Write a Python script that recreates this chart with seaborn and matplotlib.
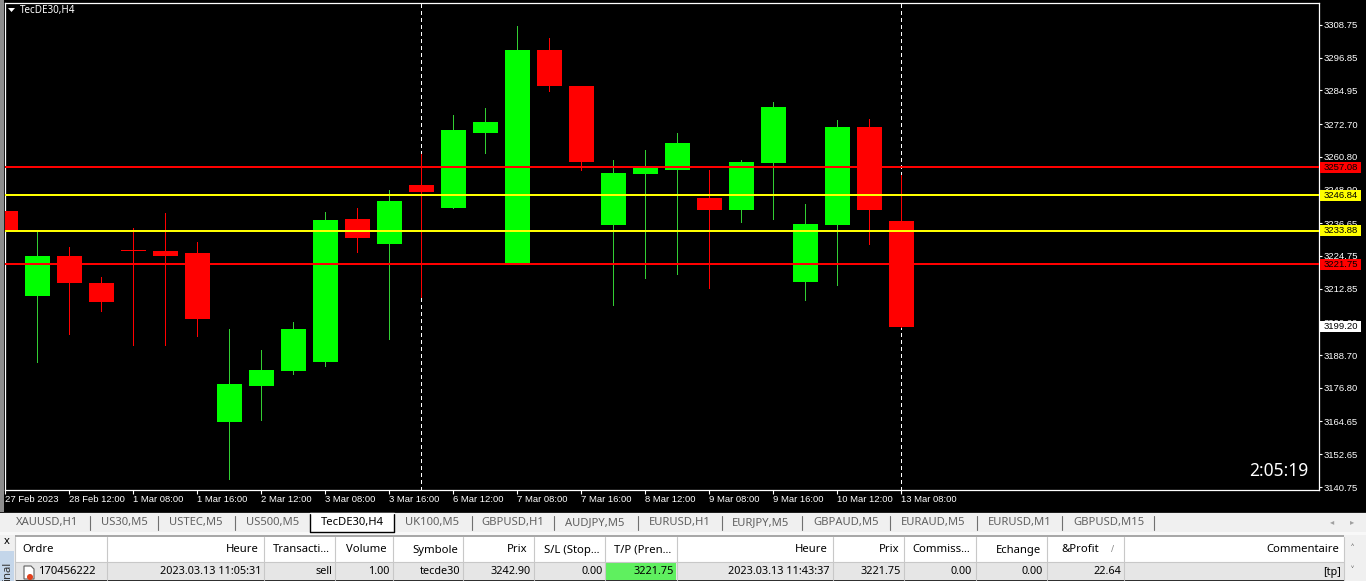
import matplotlib
matplotlib.use("Agg")
import matplotlib.pyplot as plt
from matplotlib.patches import Rectangle, Circle, Polygon
import pandas as pd
import seaborn as sns

# =====================================================================
# Data (TecDE30, H4)
# =====================================================================
opens = [3241.11, 3210.20, 3224.75, 3214.93, 3226.93, 3226.57, 3225.84, 3164.39, 3177.48, 3182.93,
         3186.20, 3238.21, 3229.11, 3250.57, 3242.20, 3269.48, 3222.30, 3299.66, 3286.57, 3236.02,
         3254.57, 3256.02, 3245.84, 3241.48, 3258.57, 3215.30, 3236.02, 3271.66, 3237.48]
closes = [3234.20, 3224.75, 3214.93, 3208.02, 3226.68, 3224.75, 3201.84, 3178.20, 3183.30, 3198.20,
          3237.84, 3231.30, 3244.75, 3248.02, 3270.57, 3273.48, 3299.66, 3286.57, 3258.93, 3254.93,
          3256.75, 3265.84, 3241.48, 3258.93, 3278.93, 3236.39, 3271.66, 3241.48, 3198.93]
highs = [3241.48, 3233.84, 3228.02, 3217.11, 3234.93, 3240.39, 3229.84, 3198.20, 3190.57, 3200.75,
         3240.75, 3242.20, 3248.75, 3261.84, 3276.02, 3278.57, 3308.39, 3304.02, 3286.57, 3259.66,
         3263.30, 3269.48, 3256.02, 3259.66, 3280.75, 3243.66, 3274.20, 3274.57, 3254.21]
lows = [3229.11, 3186.20, 3196.39, 3204.75, 3192.50, 3192.50, 3195.66, 3143.66, 3165.11, 3181.84,
        3184.75, 3226.30, 3194.57, 3209.84, 3242.20, 3262.20, 3222.30, 3284.75, 3256.02, 3206.93,
        3216.75, 3218.20, 3213.11, 3237.11, 3238.21, 3208.75, 3214.20, 3229.11, 3198.93]

y_ticks = [3308.75, 3296.85, 3284.95, 3272.70, 3260.80, 3248.90, 3236.65, 3224.75,
           3212.85, 3200.60, 3188.70, 3176.80, 3164.65, 3152.65, 3140.75]
x_tick_pos = [0, 2, 4, 6, 8, 10, 12, 14, 16, 18, 20, 22, 24, 26, 28]
x_tick_labels = ["27 Feb 2023", "28 Feb 12:00", "1 Mar 08:00", "1 Mar 16:00", "2 Mar 12:00",
                 "3 Mar 08:00", "3 Mar 16:00", "6 Mar 12:00", "7 Mar 08:00", "7 Mar 16:00",
                 "8 Mar 12:00", "9 Mar 08:00", "9 Mar 16:00", "10 Mar 12:00", "13 Mar 08:00"]

red_levels = [3257.08, 3221.75]
yellow_levels = [3246.84, 3233.88]
current_price = 3199.20
day_breaks = [13, 28]

tabs = ["XAUUSD,H1", "US30,M5", "USTEC,M5", "US500,M5", "TecDE30,H4", "UK100,M5", "GBPUSD,H1",
        "AUDJPY,M5", "EURUSD,H1", "EURJPY,M5", "GBPAUD,M5", "EURAUD,M5", "EURUSD,M1", "GBPUSD,M15"]
tab_x = [16, 101, 169, 246, 321, 405, 481, 565, 649, 732, 813, 901, 988, 1073]
tab_seps = [90, 158, 235, 472, 554, 638, 722, 802, 890, 977, 1062, 1154]

headers = ["Heure", "Transacti...", "Volume", "Symbole", "Prix", "S/L (Stop...", "T/P (Pren...",
           "Heure", "Prix", "Commiss...", "Echange", "&Profit", "Commentaire"]
header_x = [259, 330, 387, 458, 528, 600, 671, 828, 899, 970, 1041, 1099, 1339]
row_vals = ["2023.03.13 11:05:31", "sell", "1.00", "tecde30", "3242.90", "0.00", "3221.75",
            "2023.03.13 11:43:37", "3221.75", "0.00", "0.00", "22.64", "[tp]"]
row_x = [261, 332, 389, 460, 531, 603, 674, 830, 901, 972, 1043, 1121, 1341]
col_edges = [15, 107, 264, 335, 393, 463, 534, 605, 677, 833, 904, 976, 1047, 1124, 1344]

# =====================================================================
# Figure
# =====================================================================
sns.set_theme(style="white", rc={"axes.grid": False})
plt.rcParams["font.family"] = ["Noto Sans", "DejaVu Sans"]

GREEN = "#00ff00"
RED = "#ff0000"
YELLOW = "#ffff00"
UI_FONT = 8.1
AXIS_FONT = dict(family="Liberation Sans", size=6.8)

fig = plt.figure(figsize=(13.66, 5.81), dpi=100, facecolor="black")

# window chrome in pixel coordinates
ui = fig.add_axes([0, 0, 1, 1])
ui.set_xlim(0, 1366)
ui.set_ylim(581, 0)
ui.axis("off")
ui.patch.set_alpha(0)


def box(x0, y0, x1, y1, color, **kw):
    ui.add_patch(Rectangle((x0, y0), x1 - x0, y1 - y0, facecolor=color, edgecolor="none", **kw))


box(0, 0, 4, 512, "#8c8c8c")
box(0, 512, 1366, 581, "#f0f0f0")
box(0, 512, 1366, 513, "#202020")
box(0, 532, 1366, 535, "#f8f8f8")
box(15, 535, 1344, 537, "#a8a8a8")
box(15, 537, 1344, 562, "white")
box(15, 562, 1344, 580, "#e6e6e6")
box(15, 580, 1344, 581, "#303030")
box(606, 563, 676, 580, "#5ff05f")
box(0, 551, 14, 581, "#c4d6ea")

# tabs
box(310, 513, 394, 532, "white")
ui.plot([310, 310, 394, 394], [514, 532, 532, 514], color="black", lw=1)
ui.plot([310, 394], [513, 513], color="white", lw=1)
for name, x in zip(tabs, tab_x):
    col = "black" if name == "TecDE30,H4" else "#606060"
    ui.text(x, 523, name, color=col, fontsize=UI_FONT, va="center", ha="left")
for x in tab_seps:
    ui.plot([x, x], [516, 530], color="#707070", lw=0.8)
ui.text(1332, 522, "◂", color="#a0a0a0", fontsize=6, va="center", ha="center")
ui.text(1352, 522, "▸", color="#a0a0a0", fontsize=6, va="center", ha="center")

# table
for x in col_edges:
    ui.plot([x, x], [537, 580], color="#c8c8c8", lw=0.8)
ui.plot([15, 1344], [562, 562], color="#c8c8c8", lw=0.8)
ui.text(22, 550, "Ordre", color="black", fontsize=UI_FONT, va="center", ha="left")
ui.text(38, 572, "170456222", color="black", fontsize=UI_FONT, va="center", ha="left")
for txt, x in zip(headers, header_x):
    ui.text(x, 550, txt, color="black", fontsize=UI_FONT, va="center", ha="right")
for txt, x in zip(row_vals, row_x):
    ui.text(x, 572, txt, color="black", fontsize=7.8, va="center", ha="right")
ui.text(1112, 550, "/", color="#808080", fontsize=6, va="center", ha="center")
ui.text(7, 542, "x", color="black", fontsize=8, fontweight="bold", va="center", ha="center")
ui.text(7.5, 581, "inal", color="#303030", fontsize=UI_FONT, rotation=90, va="bottom", ha="center",
        clip_on=True)
ui.text(1352, 549, "˄", color="#404040", fontsize=8, va="center", ha="center")
ui.text(1352, 572, "˅", color="#404040", fontsize=8, va="center", ha="center")

# order icon
ui.add_patch(Polygon([(24, 566), (31, 566), (34, 569), (34, 579), (24, 579)],
                     facecolor="white", edgecolor="#606060", lw=0.8))
ui.add_patch(Circle((30, 577), 3, facecolor="#e2401c", edgecolor="none"))

# =====================================================================
# Chart
# =====================================================================
ax = fig.add_axes([5 / 1366, (581 - 490) / 581, 1314 / 1366, 487.5 / 581], facecolor="black")

df = pd.DataFrame({"idx": range(len(opens)), "open": opens, "close": closes, "high": highs, "low": lows})
df["bottom"] = df[["open", "close"]].min(axis=1)
df["height"] = (df["close"] - df["open"]).abs()
df["up"] = df["close"] > df["open"]

for up, col, wick in [(True, GREEN, "#32cd32"), (False, RED, RED)]:
    part = df[df["up"] == up]
    ax.vlines(part["idx"], part["low"], part["high"], color=wick, lw=0.72, zorder=2, antialiased=False)
    sns.barplot(data=part, x="idx", y="height", bottom=part["bottom"].values, native_scale=True,
                color=col, saturation=1, width=25 / 32, errorbar=None, linewidth=0, ax=ax, zorder=3)

for x in day_breaks:
    ax.axvline(x, color="white", lw=0.72, ls=(0, (3, 3)), zorder=1, antialiased=False)
for lvl in red_levels:
    ax.axhline(lvl, color=RED, lw=1.44, zorder=4, antialiased=False)
for lvl in yellow_levels:
    ax.axhline(lvl, color=YELLOW, lw=1.44, zorder=4, antialiased=False)

ax.set_xlim(-0.01, 41.05)
ax.set_ylim(3139.66, 3316.93)

ax.yaxis.tick_right()
ax.set_yticks(y_ticks)
ax.set_yticklabels([f"{v:.2f}" for v in y_ticks], color="white", **AXIS_FONT)
ax.set_xticks(x_tick_pos)
ax.set_xticklabels(x_tick_labels, color="white", ha="left", **AXIS_FONT)
ax.tick_params(axis="y", length=2, width=0.8, color="white", pad=1.2, right=True, left=False)
ax.tick_params(axis="x", length=3, width=0.8, color="white", pad=0.5, bottom=True)
ax.set_xlabel("")
ax.set_ylabel("")
for s in ax.spines.values():
    s.set_color("white")
    s.set_linewidth(0.9)

# price tags on the right axis, 41 x 11 px
tr = ax.get_yaxis_transform()
tags = [(v, RED) for v in red_levels] + [(v, YELLOW) for v in yellow_levels] + [(current_price, "white")]
for v, col in tags:
    ax.add_patch(Rectangle((1315 / 1314, v - 2), 41 / 1314, 4, transform=tr, facecolor=col,
                           edgecolor="none", clip_on=False, zorder=6))
    ax.text(1319 / 1314, v, f"{v:.2f}", transform=tr, color="black", va="center", ha="left",
            clip_on=False, zorder=7, **AXIS_FONT)

# title and clock
ax.text(20, 10, "TecDE30,H4", transform=ui.transData, color="white", fontsize=UI_FONT - 1, va="center", ha="left")
ax.add_patch(Polygon([(8, 8), (15, 8), (11.5, 12)], transform=ui.transData, facecolor="white",
                     edgecolor="none", clip_on=False, zorder=10))
ax.text(1308, 471, "2:05:19", transform=ui.transData, color="white", fontsize=12.5, va="center", ha="right")

fig.savefig("out.png", dpi=100, facecolor="black")
